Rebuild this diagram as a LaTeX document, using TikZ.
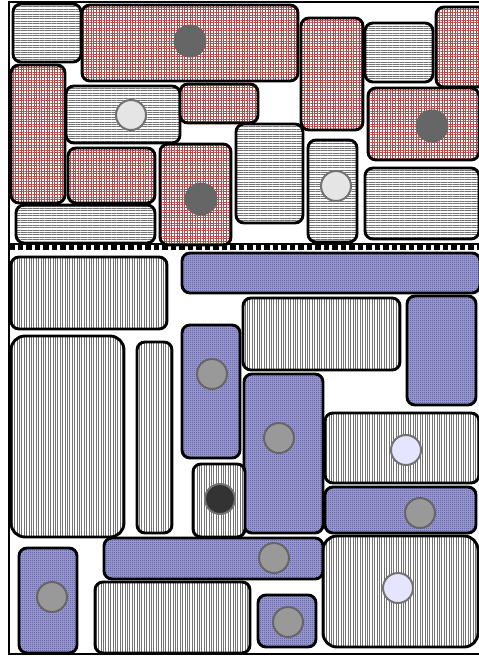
\documentclass[tikz,border=0pt]{standalone}
\usepackage{tikz}
\usetikzlibrary{patterns.meta}
\usepackage{xcolor}

\definecolor{redline}{RGB}{175,75,75}
\definecolor{blueline}{RGB}{75,75,155}
\definecolor{bluebase}{RGB}{160,160,210}
\pgfdeclarepatternformonly{fine checker}{\pgfpointorigin}{\pgfpoint{2pt}{2pt}}{\pgfpoint{2pt}{2pt}}{%
  \pgfpathrectangle{\pgfpointorigin}{\pgfpoint{1pt}{1pt}}%
  \pgfpathrectangle{\pgfpoint{1pt}{1pt}}{\pgfpoint{1pt}{1pt}}%
  \pgfusepath{fill}}

\begin{document}
\begin{tikzpicture}[x=1pt,y=-1pt,
    box/.style={draw=black,line width=2.9pt,rounded corners=8pt},
    redbox/.style={box,preaction={fill=white},pattern={Hatch[angle=0,distance=2.6pt,line width=0.35pt]},pattern color=redline},
    hbox/.style={box,preaction={fill=white},pattern={Lines[distance=2.4pt,line width=0.4pt]},pattern color=black!55},
    vbox/.style={box,preaction={fill=white},pattern={Lines[angle=90,distance=2.4pt,line width=0.4pt]},pattern color=black!55},
    bluebox/.style={box,preaction={fill=bluebase},pattern=fine checker,pattern color=blueline},
    big/.style={rounded corners=14pt},
    darkdot/.style={fill=black!60},
    lightdot/.style={fill=black!10,draw=black!55,line width=2pt},
    graydot/.style={fill=black!40,draw=black!60,line width=2pt},
    lavdot/.style={fill=blue!10,draw=black!55,line width=2pt},
    blackdot/.style={fill=black!80,draw=black!55,line width=2pt}]
\useasboundingbox (0,0) rectangle (479,657);
% frame and separator
\draw[line width=2.8pt] (484,2) -- (9,2) -- (9,654) -- (484,654);
\draw[line width=6.5pt,dash pattern=on 5.5pt off 3pt] (9,247) -- (484,247);
\draw[line width=2.4pt] (9,244) -- (484,244);
% upper part
\draw[hbox] (13,4) rectangle (81,62);
\draw[redbox] (82,5) rectangle (298,81);
\fill[darkdot] (190,41) circle (16.5);
\draw[redbox] (11,65) rectangle (65,203);
\draw[hbox] (66,86) rectangle (180,143);
\draw[lightdot] (131,115) circle (15);
\draw[redbox] (180,84) rectangle (258,123);
\draw[redbox] (68,148) rectangle (155,203);
\draw[hbox] (16,205) rectangle (155,243);
\draw[redbox] (160,144) rectangle (231,245);
\fill[darkdot] (201,199) circle (16.5);
\draw[hbox] (236,124) rectangle (303,223);
\draw[redbox] (301,18) rectangle (363,130);
\draw[hbox] (365,23) rectangle (433,82);
\draw[redbox] (436,7) rectangle (486,87);
\draw[redbox] (368,88) rectangle (479,160);
\fill[darkdot] (432,126) circle (16.5);
\draw[hbox] (308,140) rectangle (357,242);
\draw[lightdot] (336,186) circle (15);
\draw[hbox] (365,168) rectangle (479,239);
% lower part
\draw[vbox] (11,257) rectangle (167,329);
\draw[bluebox] (182,253) rectangle (480,293);
\draw[vbox,big] (11,336) rectangle (124,537);
\draw[vbox] (137,342) rectangle (172,533);
\draw[bluebox] (182,325) rectangle (240,458);
\draw[graydot] (212,374) circle (15);
\draw[vbox] (243,298) rectangle (400,370);
\draw[bluebox] (407,296) rectangle (476,405);
\draw[bluebox] (244,374) rectangle (323,533);
\draw[graydot] (279,438) circle (15);
\draw[vbox] (325,413) rectangle (479,483);
\draw[lavdot] (406,450) circle (15);
\draw[vbox] (193,464) rectangle (245,537);
\draw[blackdot] (220,499) circle (15);
\draw[bluebox] (325,487) rectangle (476,533);
\draw[graydot] (420,513) circle (15);
\draw[bluebox] (104,538) rectangle (323,579);
\draw[graydot] (274,558) circle (15);
\draw[vbox,big] (323,536) rectangle (478,647);
\draw[lavdot] (398,588) circle (15);
\draw[bluebox] (19,548) rectangle (77,653);
\draw[graydot] (52,597) circle (15);
\draw[vbox] (95,582) rectangle (250,653);
\draw[bluebox] (258,595) rectangle (316,647);
\draw[graydot] (288,622) circle (15);
\end{tikzpicture}
\end{document}
